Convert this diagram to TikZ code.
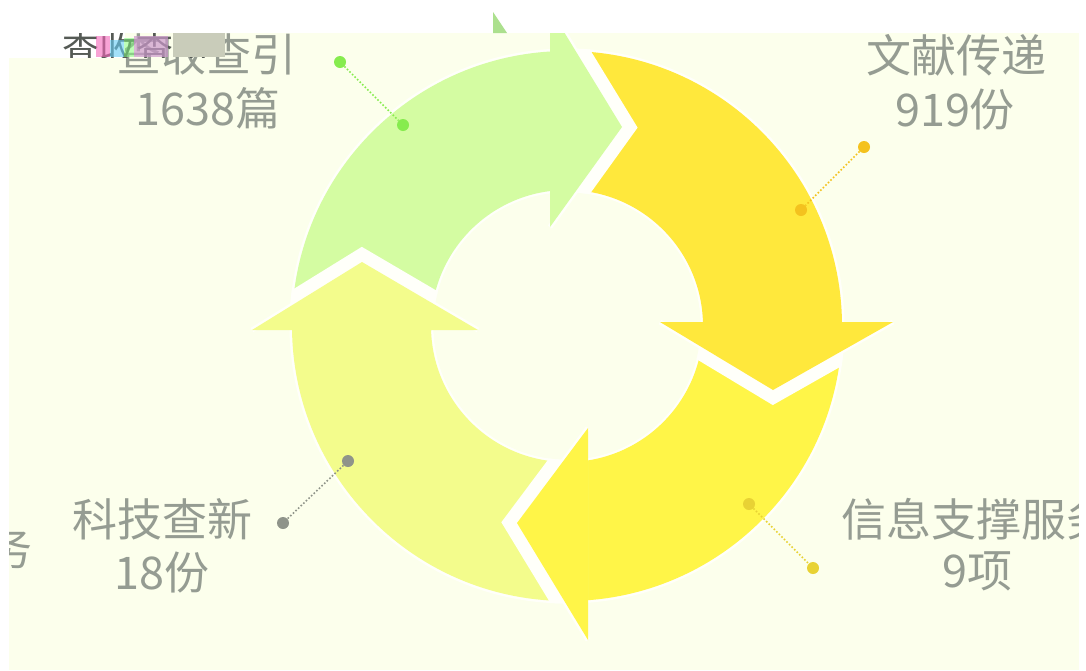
\documentclass[tikz,border=0pt]{standalone}
\usepackage{fontspec}
\setmainfont{Noto Sans CJK SC}
\definecolor{bg}{HTML}{FCFFEC}
\definecolor{cgreen}{HTML}{D4FCA2}
\definecolor{cgold}{HTML}{FFE83C}
\definecolor{cyel}{HTML}{FFF548}
\definecolor{clime}{HTML}{F3FC8C}
\definecolor{txt}{HTML}{959C92}
\definecolor{dgreen}{HTML}{86EC4E}
\definecolor{dgold}{HTML}{F4C21E}
\definecolor{dyel}{HTML}{E8D234}
\definecolor{dgray}{HTML}{8F948A}
\definecolor{glgreen}{HTML}{ACE08E}
\definecolor{gldark}{HTML}{555A55}
\definecolor{glbox}{HTML}{C9CCBA}
\definecolor{halo}{HTML}{FFFFFA}
\begin{document}
\begin{tikzpicture}[x=1pt,y=-1pt,
  lbl/.style={inner sep=0pt, text=txt, font=\fontsize{45}{50}\selectfont},
  dotnode/.style={circle, inner sep=0pt, minimum size=12pt},
  leader/.style={dotted, line width=1.6pt},
  gapline/.style={halo, line width=26pt, miter limit=10},
  haloline/.style={halo, line width=5pt},
]
\useasboundingbox (0,0) rectangle (1086,670);
\fill[white] (0,0) rectangle (1086,670);
\fill[bg] (9,33) rectangle (1079,670);
\coordinate (c) at (567,326);
% head coordinates
\coordinate (gA) at (550,9);   \coordinate (gT) at (622,127); \coordinate (gB) at (550,227);
\coordinate (oA) at (660,322); \coordinate (oT) at (773,390); \coordinate (oB) at (893,322);
\coordinate (yA) at (588,428); \coordinate (yT) at (517,523); \coordinate (yB) at (588,640);
\coordinate (lA) at (252,330); \coordinate (lT) at (362,262); \coordinate (lB) at (478,330);
% halo of the ring
\draw[haloline] (c) circle[radius=275pt] (c) circle[radius=136pt];
% bodies
\begin{scope}\clip (0,0) rectangle (551,330);
 \fill[cgreen, even odd rule] (c) circle[radius=275pt] (c) circle[radius=136pt];
\end{scope}
\begin{scope}\clip (550,0) rectangle (1086,323);
 \fill[cgold, even odd rule] (c) circle[radius=275pt] (c) circle[radius=136pt];
\end{scope}
\begin{scope}\clip (587,322) rectangle (1086,670);
 \fill[cyel, even odd rule] (c) circle[radius=275pt] (c) circle[radius=136pt];
\end{scope}
\begin{scope}\clip (0,329) rectangle (588,670);
 \fill[clime, even odd rule] (c) circle[radius=275pt] (c) circle[radius=136pt];
\end{scope}
% gaps between head and following tail
\begin{scope}\clip (c) circle[radius=277.5pt];
 \draw[gapline] (gA) -- (gT) -- (gB);
 \draw[gapline] (oA) -- (oT) -- (oB);
 \draw[gapline] (yA) -- (yT) -- (yB);
 \draw[gapline] (lA) -- (lT) -- (lB);
\end{scope}
\fill[bg] (c) circle[radius=133.5pt];
% heads
\draw[haloline] (gA) -- (gT) -- (gB);
\draw[haloline] (oA) -- (oT) -- (oB);
\draw[haloline] (yA) -- (yT) -- (yB);
\draw[haloline] (lA) -- (lT) -- (lB);
\fill[cgreen] (gA) -- (gT) -- (gB) -- cycle;
\fill[cgold] (oA) -- (oT) -- (oB) -- cycle;
\fill[cyel] (yA) -- (yT) -- (yB) -- cycle;
\fill[clime] (lA) -- (lT) -- (lB) -- cycle;
% leaders
\node[dotnode, fill=dgreen] (g1) at (340,62) {};
\node[dotnode, fill=dgreen] (g2) at (403,125) {};
\draw[leader, dgreen] (g1) -- (g2);
\node[dotnode, fill=dgold] (o1) at (864,147) {};
\node[dotnode, fill=dgold] (o2) at (801,210) {};
\draw[leader, dgold] (o1) -- (o2);
\node[dotnode, fill=dyel] (y1) at (749,504) {};
\node[dotnode, fill=dyel] (y2) at (813,568) {};
\draw[leader, dyel] (y1) -- (y2);
\node[dotnode, fill=dgray] (l1) at (348,461) {};
\node[dotnode, fill=dgray] (l2) at (283,523) {};
\draw[leader, dgray] (l1) -- (l2);
% labels
\node[lbl] (t1a) at (206,54) {查收查引};
\node[lbl] (t1b) at (208,108) {1638篇};
\node[lbl] (t2a) at (956,55) {文献传递};
\node[lbl] (t2b) at (955,110) {919份};
\node[lbl, anchor=west] (t3a) at (841,519) {信息支撑服务};
\node[lbl] (t3b) at (977,571) {9项};
\node[lbl] (t4a) at (162,519) {科技查新};
\node[lbl] (t4b) at (162,573) {18份};
\node[lbl, anchor=east] (t5) at (33,548) {务};
% frame strips and glitch overlay
\fill[white] (0,0) rectangle (1086,33);
\fill[white] (0,0) rectangle (9,670);
\fill[white] (1079,0) rectangle (1086,670);
\fill[glgreen] (493,12) -- (493,33) -- (507,33) -- cycle;
\fill[white] (9,33) rectangle (125,58);
\begin{scope}\clip (9,33) rectangle (225,57);
 \node[inner sep=0pt, anchor=west, text=gldark, font=\fontsize{37}{42}\selectfont] (gl) at (62,49) {查收查引};
 \fill[magenta!60, opacity=0.6] (96,36) rectangle (110,57);
 \fill[cyan!60, opacity=0.6] (110,40) rectangle (124,57);
 \fill[green!50, opacity=0.5] (124,38) rectangle (134,57);
 \fill[violet!40, opacity=0.7] (134,36) rectangle (168,57);
 \fill[glbox] (173,33) rectangle (225,57);
\end{scope}
\end{tikzpicture}
\end{document}
